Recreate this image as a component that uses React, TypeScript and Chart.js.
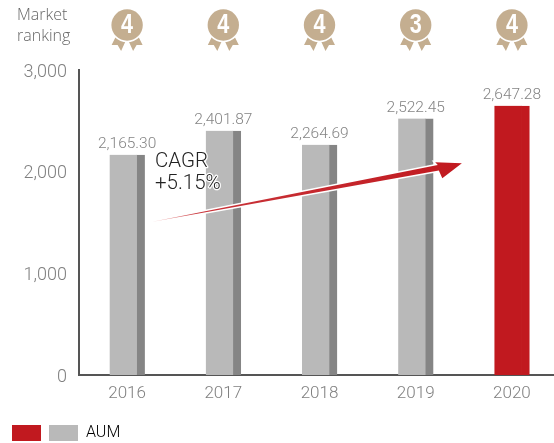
import React, { useEffect, useRef } from "react";
import { Chart, registerables } from "chart.js";

Chart.register(...registerables);

const years = ["2016", "2017", "2018", "2019", "2020"];
const aum = [2165.3, 2401.87, 2264.69, 2522.45, 2647.28];
const valueLabels = ["2,165.30", "2,401.87", "2,264.69", "2,522.45", "2,647.28"];
const rankings = ["4", "4", "4", "3", "4"];
const barFill = ["#b9b9b9", "#b9b9b9", "#b9b9b9", "#b9b9b9", "#c1191f"];
const barSide = ["#858585", "#858585", "#858585", "#858585", "#c1191f"];
const arrowFrom = { index: 0.25, value: 1505 };
const arrowTo = { index: 3.48, value: 2082 };
const cagrLines = ["CAGR", "+5.15%"];
const rankingTitle = ["Market", "ranking"];
const legendName = "AUM";

const LIGHT = "Roboto";

const decorations = {
  id: "decorations",
  afterDatasetsDraw(chart: any) {
    const { ctx, scales } = chart;
    const xs = scales.x;
    const ys = scales.y;

    // value labels
    ctx.save();
    ctx.textAlign = "center";
    ctx.textBaseline = "alphabetic";
    ctx.fillStyle = "#848484";
    ctx.font = `300 15.5px ${LIGHT}`;
    aum.forEach((v, i) => {
      ctx.fillText(valueLabels[i], xs.getPixelForValue(i), ys.getPixelForValue(v) - 7);
    });
    ctx.restore();

    // arrow
    const x0 = xs.getPixelForValue(arrowFrom.index);
    const y0 = ys.getPixelForValue(arrowFrom.value);
    const x1 = xs.getPixelForValue(arrowTo.index);
    const y1 = ys.getPixelForValue(arrowTo.value);
    const len = Math.hypot(x1 - x0, y1 - y0);
    const ux = (x1 - x0) / len;
    const uy = (y1 - y0) / len;
    const nx = -uy;
    const ny = ux;
    const pt = (along: number, off: number): [number, number] => [
      x0 + ux * along + nx * off,
      y0 + uy * along + ny * off,
    ];
    const poly = [pt(0, 0), pt(len - 24, -2.8), pt(len - 26, -6), pt(len, 0), pt(len - 22, 11), pt(len - 24, 2.8)];
    ctx.save();
    ctx.beginPath();
    poly.forEach((p, i) => (i ? ctx.lineTo(p[0], p[1]) : ctx.moveTo(p[0], p[1])));
    ctx.closePath();
    ctx.strokeStyle = "#ffffff";
    ctx.lineWidth = 3;
    ctx.lineJoin = "miter";
    ctx.stroke();
    const g = ctx.createLinearGradient(x0, y0, x1, y1);
    g.addColorStop(0, "#f0b0b0");
    g.addColorStop(0.15, "#c9343a");
    g.addColorStop(1, "#c1191f");
    ctx.fillStyle = g;
    ctx.fill();
    ctx.restore();

    // CAGR text
    ctx.save();
    ctx.font = `300 20.5px ${LIGHT}`;
    ctx.textAlign = "left";
    ctx.textBaseline = "middle";
    ctx.lineJoin = "round";
    cagrLines.forEach((t, i) => {
      ctx.strokeStyle = "#ffffff";
      ctx.lineWidth = 2.5;
      ctx.strokeText(t, 155, 162 + i * 22);
      ctx.fillStyle = "#222222";
      ctx.fillText(t, 155, 162 + i * 22);
    });
    ctx.restore();

    // ranking title
    ctx.save();
    ctx.font = `300 16px "Open Sans"`;
    ctx.fillStyle = "#666666";
    ctx.textBaseline = "middle";
    ctx.fillText(rankingTitle[0], 17, 15);
    ctx.fillText(rankingTitle[1], 17, 36);
    ctx.restore();

    // medals
    rankings.forEach((r, i) => {
      const cx = xs.getPixelForValue(i);
      const cy = 25;
      const tan = "#c4ae90";
      ctx.save();
      ctx.fillStyle = tan;
      [-1, 1].forEach((d) => {
        ctx.beginPath();
        ctx.moveTo(cx + d * 11, 36);
        ctx.lineTo(cx + d * 15.5, 45);
        ctx.lineTo(cx + d * 9.5, 45);
        ctx.lineTo(cx + d * 6, 51);
        ctx.lineTo(cx + d * 1, 40);
        ctx.closePath();
        ctx.fill();
      });
      ctx.beginPath();
      ctx.arc(cx, cy, 15.7, 0, Math.PI * 2);
      ctx.strokeStyle = "#ffffff";
      ctx.lineWidth = 3;
      ctx.stroke();
      ctx.fill();
      ctx.fillStyle = "#ffffff";
      ctx.font = `bold 27px "Liberation Sans"`;
      ctx.textAlign = "center";
      ctx.textBaseline = "middle";
      ctx.translate(cx, cy + 1);
      ctx.scale(0.8, 1);
      ctx.fillText(r, 0, 0);
      ctx.restore();
    });
  },
};

export default function App() {
  const ref = useRef<HTMLCanvasElement>(null);
  useEffect(() => {
    document.body.style.margin = "0";
    const chart = new Chart(ref.current!, {
      type: "bar",
      data: {
        labels: years,
        datasets: [
          {
            label: legendName,
            data: aum,
            backgroundColor: barFill,
            borderColor: barSide,
            borderWidth: { top: 0, right: 8, bottom: 0, left: 0 },
            borderSkipped: false,
            barThickness: 35,
          } as any,
        ],
      },
      options: {
        responsive: false,
        animation: false,
        layout: { padding: { top: 70, left: 12, right: 0, bottom: 3 } },
        plugins: {
          tooltip: { enabled: false },
          legend: {
            position: "bottom",
            align: "start",
            onClick: () => {},
            labels: {
              boxWidth: 29,
              boxHeight: 16,
              padding: 0,
              color: "#666666",
              font: { family: LIGHT, size: 16, weight: "300" as any },
              generateLabels: () => [
                { text: "", fillStyle: "#c1191f", strokeStyle: "#c1191f", lineWidth: 0 },
                { text: legendName, fillStyle: "#b9b9b9", strokeStyle: "#b9b9b9", lineWidth: 0 },
              ] as any,
            },
          },
        },
        scales: {
          x: {
            grid: { display: false, drawTicks: false },
            border: { color: "#555555", width: 2 },
            ticks: {
              color: "#808080",
              padding: 9,
              maxRotation: 0,
              font: { family: LIGHT, size: 17, weight: "300" as any },
            },
            afterFit: (s: any) => {
              s.height = 50;
            },
          },
          y: {
            min: 0,
            max: 3000,
            grid: { display: false, drawTicks: false },
            border: { color: "#555555", width: 2 },
            ticks: {
              stepSize: 1000,
              color: "#808080",
              padding: 12,
              labelOffset: 2,
              font: { family: LIGHT, size: 18, weight: "300" as any },
              callback: (v: any) => Number(v).toLocaleString("en-US"),
            },
            afterFit: (s: any) => {
              s.width = 67;
            },
          },
        },
      },
      plugins: [decorations],
    });
    return () => chart.destroy();
  }, []);
  return (
    <div style={{ width: 554, height: 443, overflow: "hidden", background: "#fff" }}>
      <canvas ref={ref} width={560} height={454} style={{ display: "block" }} />
    </div>
  );
}
